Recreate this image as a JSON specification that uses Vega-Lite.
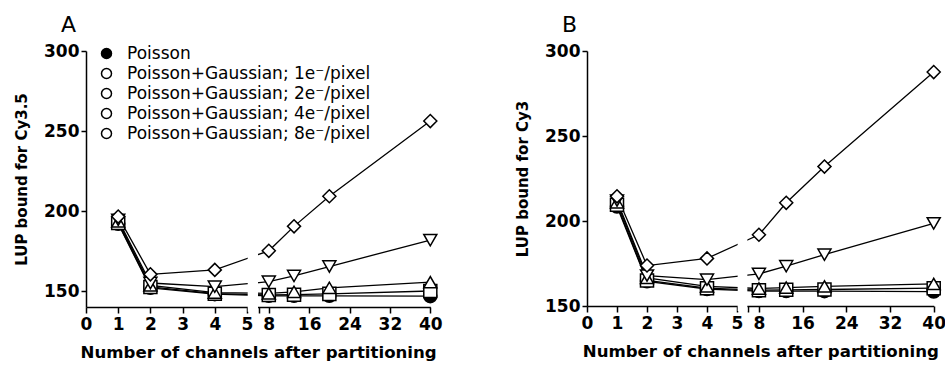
{
  "$schema": "https://vega.github.io/schema/vega-lite/v6.json",
  "background": "white",
  "padding": {"left": 14, "top": 14, "right": 5, "bottom": 5},
  "bounds": "flush",
  "spacing": 156,
  "config": {
    "view": {"stroke": null},
    "font": "DejaVu Sans",
    "axis": {
      "grid": false,
      "domainColor": "black", "domainWidth": 1.5,
      "tickColor": "black", "tickWidth": 1.5,
      "labelFont": "DejaVu Sans", "labelFontWeight": "bold", "labelFontSize": 17, "labelColor": "black",
      "titleFont": "DejaVu Sans", "titleFontWeight": "bold", "titleColor": "black"
    }
  },
  "datasets": {
    "pts": [
      {"panel": "A", "series": "Poisson", "x": 1, "y": 192},
      {"panel": "A", "series": "Poisson", "x": 2, "y": 152},
      {"panel": "A", "series": "Poisson", "x": 4, "y": 148},
      {"panel": "A", "series": "Poisson", "x": 8, "y": 147},
      {"panel": "A", "series": "Poisson", "x": 13, "y": 147},
      {"panel": "A", "series": "Poisson", "x": 20, "y": 147},
      {"panel": "A", "series": "Poisson", "x": 40, "y": 146.8},
      {"panel": "A", "series": "Poisson+Gaussian; 1e⁻/pixel", "x": 1, "y": 192.5},
      {"panel": "A", "series": "Poisson+Gaussian; 1e⁻/pixel", "x": 2, "y": 152.5},
      {"panel": "A", "series": "Poisson+Gaussian; 1e⁻/pixel", "x": 4, "y": 148.3},
      {"panel": "A", "series": "Poisson+Gaussian; 1e⁻/pixel", "x": 8, "y": 147.5},
      {"panel": "A", "series": "Poisson+Gaussian; 1e⁻/pixel", "x": 13, "y": 147.7},
      {"panel": "A", "series": "Poisson+Gaussian; 1e⁻/pixel", "x": 20, "y": 148.2},
      {"panel": "A", "series": "Poisson+Gaussian; 1e⁻/pixel", "x": 40, "y": 150},
      {"panel": "A", "series": "Poisson+Gaussian; 2e⁻/pixel", "x": 1, "y": 193.5},
      {"panel": "A", "series": "Poisson+Gaussian; 2e⁻/pixel", "x": 2, "y": 153.5},
      {"panel": "A", "series": "Poisson+Gaussian; 2e⁻/pixel", "x": 4, "y": 149},
      {"panel": "A", "series": "Poisson+Gaussian; 2e⁻/pixel", "x": 8, "y": 148.5},
      {"panel": "A", "series": "Poisson+Gaussian; 2e⁻/pixel", "x": 13, "y": 149.5},
      {"panel": "A", "series": "Poisson+Gaussian; 2e⁻/pixel", "x": 20, "y": 152},
      {"panel": "A", "series": "Poisson+Gaussian; 2e⁻/pixel", "x": 40, "y": 155.5},
      {"panel": "A", "series": "Poisson+Gaussian; 4e⁻/pixel", "x": 1, "y": 194.5},
      {"panel": "A", "series": "Poisson+Gaussian; 4e⁻/pixel", "x": 2, "y": 155},
      {"panel": "A", "series": "Poisson+Gaussian; 4e⁻/pixel", "x": 4, "y": 152.7},
      {"panel": "A", "series": "Poisson+Gaussian; 4e⁻/pixel", "x": 8, "y": 155.8},
      {"panel": "A", "series": "Poisson+Gaussian; 4e⁻/pixel", "x": 13, "y": 159.4},
      {"panel": "A", "series": "Poisson+Gaussian; 4e⁻/pixel", "x": 20, "y": 165.3},
      {"panel": "A", "series": "Poisson+Gaussian; 4e⁻/pixel", "x": 40, "y": 181.8},
      {"panel": "A", "series": "Poisson+Gaussian; 8e⁻/pixel", "x": 1, "y": 196.5},
      {"panel": "A", "series": "Poisson+Gaussian; 8e⁻/pixel", "x": 2, "y": 160.4},
      {"panel": "A", "series": "Poisson+Gaussian; 8e⁻/pixel", "x": 4, "y": 163.2},
      {"panel": "A", "series": "Poisson+Gaussian; 8e⁻/pixel", "x": 8, "y": 175.1},
      {"panel": "A", "series": "Poisson+Gaussian; 8e⁻/pixel", "x": 13, "y": 190.4},
      {"panel": "A", "series": "Poisson+Gaussian; 8e⁻/pixel", "x": 20, "y": 209.2},
      {"panel": "A", "series": "Poisson+Gaussian; 8e⁻/pixel", "x": 40, "y": 256.2},
      {"panel": "B", "series": "Poisson", "x": 1, "y": 208.5},
      {"panel": "B", "series": "Poisson", "x": 2, "y": 164.5},
      {"panel": "B", "series": "Poisson", "x": 4, "y": 160},
      {"panel": "B", "series": "Poisson", "x": 8, "y": 158.8},
      {"panel": "B", "series": "Poisson", "x": 13, "y": 158.8},
      {"panel": "B", "series": "Poisson", "x": 20, "y": 158.7},
      {"panel": "B", "series": "Poisson", "x": 40, "y": 158.5},
      {"panel": "B", "series": "Poisson+Gaussian; 1e⁻/pixel", "x": 1, "y": 209.5},
      {"panel": "B", "series": "Poisson+Gaussian; 1e⁻/pixel", "x": 2, "y": 165},
      {"panel": "B", "series": "Poisson+Gaussian; 1e⁻/pixel", "x": 4, "y": 160.5},
      {"panel": "B", "series": "Poisson+Gaussian; 1e⁻/pixel", "x": 8, "y": 159.3},
      {"panel": "B", "series": "Poisson+Gaussian; 1e⁻/pixel", "x": 13, "y": 159.5},
      {"panel": "B", "series": "Poisson+Gaussian; 1e⁻/pixel", "x": 20, "y": 159.7},
      {"panel": "B", "series": "Poisson+Gaussian; 1e⁻/pixel", "x": 40, "y": 160.5},
      {"panel": "B", "series": "Poisson+Gaussian; 2e⁻/pixel", "x": 1, "y": 211},
      {"panel": "B", "series": "Poisson+Gaussian; 2e⁻/pixel", "x": 2, "y": 166.5},
      {"panel": "B", "series": "Poisson+Gaussian; 2e⁻/pixel", "x": 4, "y": 161.5},
      {"panel": "B", "series": "Poisson+Gaussian; 2e⁻/pixel", "x": 8, "y": 160.3},
      {"panel": "B", "series": "Poisson+Gaussian; 2e⁻/pixel", "x": 13, "y": 160.8},
      {"panel": "B", "series": "Poisson+Gaussian; 2e⁻/pixel", "x": 20, "y": 161.5},
      {"panel": "B", "series": "Poisson+Gaussian; 2e⁻/pixel", "x": 40, "y": 163},
      {"panel": "B", "series": "Poisson+Gaussian; 4e⁻/pixel", "x": 1, "y": 212},
      {"panel": "B", "series": "Poisson+Gaussian; 4e⁻/pixel", "x": 2, "y": 167.9},
      {"panel": "B", "series": "Poisson+Gaussian; 4e⁻/pixel", "x": 4, "y": 165.5},
      {"panel": "B", "series": "Poisson+Gaussian; 4e⁻/pixel", "x": 8, "y": 168.9},
      {"panel": "B", "series": "Poisson+Gaussian; 4e⁻/pixel", "x": 13, "y": 173.4},
      {"panel": "B", "series": "Poisson+Gaussian; 4e⁻/pixel", "x": 20, "y": 180.2},
      {"panel": "B", "series": "Poisson+Gaussian; 4e⁻/pixel", "x": 40, "y": 198.6},
      {"panel": "B", "series": "Poisson+Gaussian; 8e⁻/pixel", "x": 1, "y": 214.5},
      {"panel": "B", "series": "Poisson+Gaussian; 8e⁻/pixel", "x": 2, "y": 173.8},
      {"panel": "B", "series": "Poisson+Gaussian; 8e⁻/pixel", "x": 4, "y": 178},
      {"panel": "B", "series": "Poisson+Gaussian; 8e⁻/pixel", "x": 8, "y": 191.9},
      {"panel": "B", "series": "Poisson+Gaussian; 8e⁻/pixel", "x": 13, "y": 210.7},
      {"panel": "B", "series": "Poisson+Gaussian; 8e⁻/pixel", "x": 20, "y": 232},
      {"panel": "B", "series": "Poisson+Gaussian; 8e⁻/pixel", "x": 40, "y": 287.6}
    ]
  },
  "resolve": {"scale": {"x": "independent", "y": "independent", "fill": "independent", "shape": "independent"}, "legend": {"shape": "independent", "fill": "independent"}},
  "hconcat": [
    {
      "width": 344.3,
      "height": 256,
      "title": {"text": "A", "anchor": "start", "frame": "group", "dx": -25, "offset": 5, "fontSize": 22, "fontWeight": "normal", "font": "DejaVu Sans", "color": "black"},
      "data": {"name": "pts"},
      "layer": [
        {
          "transform": [{"filter": "datum.panel == 'A'"}],
          "mark": {"type": "line", "color": "black", "strokeWidth": 1.3},
          "encoding": {
            "x": {"field": "x", "type": "quantitative",
              "scale": {"domain": [0, 5, 6, 40], "range": [0, 161, 172.7, 344.3], "nice": false, "zero": false},
              "axis": {"values": [0, 1, 2, 3, 4, 5, 6, 8, 16, 24, 32, 40], "labelExpr": "datum.value == 6 ? '' : datum.label", "labelFlush": false, "labelOverlap": false, "tickSize": 6, "labelPadding": 3, "title": "Number of channels after partitioning", "titleFontSize": 16.6, "titlePadding": 12}},
            "y": {"field": "y", "type": "quantitative",
              "scale": {"domain": [140, 300], "nice": false, "zero": false},
              "axis": {"values": [150, 200, 250, 300], "tickSize": 5, "labelPadding": 2, "title": "LUP bound for Cy3.5", "titleFontSize": 15, "titlePadding": 14}},
            "detail": {"field": "series", "type": "nominal"}
          }
        },
        {
          "data": {"values": [{}]},
          "mark": {"type": "rect", "fill": "white"},
          "encoding": {
            "x": {"datum": 5.06, "type": "quantitative",
              "scale": {"domain": [0, 5, 6, 40], "range": [0, 161, 172.7, 344.3], "nice": false, "zero": false},
              "axis": {"values": [0, 1, 2, 3, 4, 5, 6, 8, 16, 24, 32, 40], "labelExpr": "datum.value == 6 ? '' : datum.label", "labelFlush": false, "labelOverlap": false, "tickSize": 6, "labelPadding": 3, "title": "Number of channels after partitioning", "titleFontSize": 16.6, "titlePadding": 12}},
            "x2": {"datum": 5.94},
            "y": {"datum": 137, "type": "quantitative",
              "scale": {"domain": [140, 300], "nice": false, "zero": false},
              "axis": {"values": [150, 200, 250, 300], "tickSize": 5, "labelPadding": 2, "title": "LUP bound for Cy3.5", "titleFontSize": 15, "titlePadding": 14}},
            "y2": {"datum": 235}
          }
        },
        {
          "transform": [{"filter": "datum.panel == 'A'"}],
          "mark": {"type": "point", "filled": false, "size": 170, "stroke": "black", "strokeWidth": 1.5, "opacity": 1},
          "encoding": {
            "x": {"field": "x", "type": "quantitative",
              "scale": {"domain": [0, 5, 6, 40], "range": [0, 161, 172.7, 344.3], "nice": false, "zero": false},
              "axis": {"values": [0, 1, 2, 3, 4, 5, 6, 8, 16, 24, 32, 40], "labelExpr": "datum.value == 6 ? '' : datum.label", "labelFlush": false, "labelOverlap": false, "tickSize": 6, "labelPadding": 3, "title": "Number of channels after partitioning", "titleFontSize": 16.6, "titlePadding": 12}},
            "y": {"field": "y", "type": "quantitative",
              "scale": {"domain": [140, 300], "nice": false, "zero": false},
              "axis": {"values": [150, 200, 250, 300], "tickSize": 5, "labelPadding": 2, "title": "LUP bound for Cy3.5", "titleFontSize": 15, "titlePadding": 14}},
            "shape": {"field": "series", "type": "nominal",
              "scale": {"domain": ["Poisson", "Poisson+Gaussian; 1e⁻/pixel", "Poisson+Gaussian; 2e⁻/pixel", "Poisson+Gaussian; 4e⁻/pixel", "Poisson+Gaussian; 8e⁻/pixel"], "range": ["circle", "square", "triangle-up", "triangle-down", "diamond"]},
              "legend": null},
            "fill": {"field": "series", "type": "nominal",
              "scale": {"range": ["black", "white", "white", "white", "white"]},
              "legend": {"orient": "none", "legendX": 12, "legendY": -6, "title": null, "labelFont": "DejaVu Sans", "labelFontSize": 17, "labelColor": "black", "labelLimit": 500, "symbolSize": 100, "symbolStrokeColor": "black", "symbolStrokeWidth": 1.5, "labelOffset": 12, "rowPadding": 2, "padding": 0, "zindex": 1,
                "encode": {"symbols": {
                  "stroke": {"value": "black"},
                  "strokeWidth": {"value": 1.5},
                  "shape": {"value": {"expr": "datum.value == 'Poisson' ? 'circle' : indexof(datum.value, '1e') >= 0 ? 'square' : indexof(datum.value, '2e') >= 0 ? 'triangle-up' : indexof(datum.value, '4e') >= 0 ? 'triangle-down' : 'diamond'"}}
                }}}}
          }
        }
      ]
    },
    {
      "width": 346.7,
      "height": 255,
      "title": {"text": "B", "anchor": "start", "frame": "group", "dx": -25, "offset": 5, "fontSize": 22, "fontWeight": "normal", "font": "DejaVu Sans", "color": "black"},
      "data": {"name": "pts"},
      "layer": [
        {
          "transform": [{"filter": "datum.panel == 'B'"}],
          "mark": {"type": "line", "color": "black", "strokeWidth": 1.3},
          "encoding": {
            "x": {"field": "x", "type": "quantitative",
              "scale": {"domain": [0, 5, 6, 40], "range": [0, 150, 161, 346.7], "nice": false, "zero": false},
              "axis": {"values": [0, 1, 2, 3, 4, 5, 6, 8, 16, 24, 32, 40], "labelExpr": "datum.value == 6 ? '' : datum.label", "labelFlush": false, "labelOverlap": false, "tickSize": 6, "labelPadding": 3, "title": "Number of channels after partitioning", "titleFontSize": 16.6, "titlePadding": 12}},
            "y": {"field": "y", "type": "quantitative",
              "scale": {"domain": [150, 300], "nice": false, "zero": false},
              "axis": {"values": [150, 200, 250, 300], "tickSize": 5, "labelPadding": 2, "title": "LUP bound for Cy3", "titleFontSize": 15, "titlePadding": 14}},
            "detail": {"field": "series", "type": "nominal"}
          }
        },
        {
          "data": {"values": [{}]},
          "mark": {"type": "rect", "fill": "white"},
          "encoding": {
            "x": {"datum": 5.06, "type": "quantitative",
              "scale": {"domain": [0, 5, 6, 40], "range": [0, 150, 161, 346.7], "nice": false, "zero": false},
              "axis": {"values": [0, 1, 2, 3, 4, 5, 6, 8, 16, 24, 32, 40], "labelExpr": "datum.value == 6 ? '' : datum.label", "labelFlush": false, "labelOverlap": false, "tickSize": 6, "labelPadding": 3, "title": "Number of channels after partitioning", "titleFontSize": 16.6, "titlePadding": 12}},
            "x2": {"datum": 5.94},
            "y": {"datum": 147, "type": "quantitative",
              "scale": {"domain": [150, 300], "nice": false, "zero": false},
              "axis": {"values": [150, 200, 250, 300], "tickSize": 5, "labelPadding": 2, "title": "LUP bound for Cy3", "titleFontSize": 15, "titlePadding": 14}},
            "y2": {"datum": 250}
          }
        },
        {
          "transform": [{"filter": "datum.panel == 'B'"}],
          "mark": {"type": "point", "filled": false, "size": 170, "stroke": "black", "strokeWidth": 1.5, "opacity": 1},
          "encoding": {
            "x": {"field": "x", "type": "quantitative",
              "scale": {"domain": [0, 5, 6, 40], "range": [0, 150, 161, 346.7], "nice": false, "zero": false},
              "axis": {"values": [0, 1, 2, 3, 4, 5, 6, 8, 16, 24, 32, 40], "labelExpr": "datum.value == 6 ? '' : datum.label", "labelFlush": false, "labelOverlap": false, "tickSize": 6, "labelPadding": 3, "title": "Number of channels after partitioning", "titleFontSize": 16.6, "titlePadding": 12}},
            "y": {"field": "y", "type": "quantitative",
              "scale": {"domain": [150, 300], "nice": false, "zero": false},
              "axis": {"values": [150, 200, 250, 300], "tickSize": 5, "labelPadding": 2, "title": "LUP bound for Cy3", "titleFontSize": 15, "titlePadding": 14}},
            "shape": {"field": "series", "type": "nominal",
              "scale": {"domain": ["Poisson", "Poisson+Gaussian; 1e⁻/pixel", "Poisson+Gaussian; 2e⁻/pixel", "Poisson+Gaussian; 4e⁻/pixel", "Poisson+Gaussian; 8e⁻/pixel"], "range": ["circle", "square", "triangle-up", "triangle-down", "diamond"]},
              "legend": null},
            "fill": {"field": "series", "type": "nominal",
              "scale": {"domain": ["Poisson", "Poisson+Gaussian; 1e⁻/pixel", "Poisson+Gaussian; 2e⁻/pixel", "Poisson+Gaussian; 4e⁻/pixel", "Poisson+Gaussian; 8e⁻/pixel"], "range": ["black", "white", "white", "white", "white"]},
              "legend": null}
          }
        }
      ]
    }
  ]
}
